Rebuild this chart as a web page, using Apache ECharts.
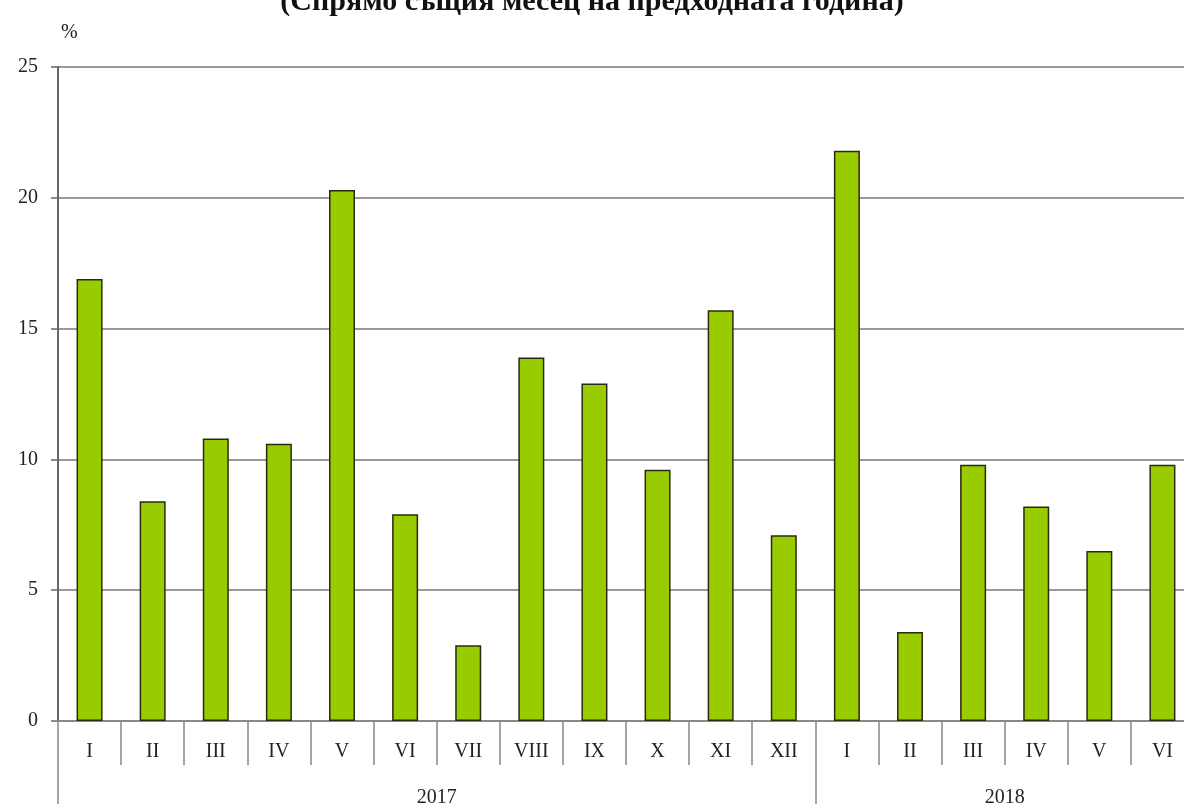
<!DOCTYPE html>
<html>
<head>
<meta charset="utf-8">
<script src="https://cdn.jsdelivr.net/npm/echarts@6/dist/echarts.min.js"></script>
<style>
html,body{margin:0;padding:0;background:#fff;}
#c{width:1184px;height:804px;}
</style>
</head>
<body>
<div id="c"></div>
<script>
const months = ['I','II','III','IV','V','VI','VII','VIII','IX','X','XI','XII','I','II','III','IV','V','VI'];
const values = [16.9, 8.4, 10.8, 10.6, 20.3, 7.9, 2.9, 13.9, 12.9, 9.6, 15.7, 7.1, 21.8, 3.4, 9.8, 8.2, 6.5, 9.8];
const years = ['2017', '2018'];
const yearStarts = [0, 12, 18];
const yearCenters = [6, 15];
const yTicks = [0, 5, 10, 15, 20, 25];
const titleText = '(Спрямо същия месец на предходната година)';
const unitLabel = '%';

const font = 'Liberation Serif, Times New Roman, serif';
const chart = echarts.init(document.getElementById('c'));
chart.setOption({
  animation: false,
  backgroundColor: '#ffffff',
  title: [
    { text: titleText, left: 'center', top: -18,
      textStyle: { fontFamily: font, fontSize: 30, fontWeight: 'bold', color: '#111' } },
    { text: unitLabel, left: 56, top: 18,
      textStyle: { fontFamily: font, fontSize: 20, fontWeight: 'normal', color: '#222' } }
  ],
  grid: { left: 58, width: 1136, top: 67, height: 654, containLabel: false, outerBoundsMode: 'none' },
  xAxis: [
    {
      type: 'category',
      data: months,
      boundaryGap: true,
      axisLine: { show: true, lineStyle: { color: '#888', width: 2 } },
      axisTick: { show: true, alignWithLabel: false, length: 44, lineStyle: { color: '#888', width: 1.5 } },
      axisLabel: { interval: 0, margin: 21, fontFamily: font, fontSize: 20, color: '#222' },
      splitLine: { show: false }
    },
    {
      type: 'value',
      position: 'bottom',
      min: 0, max: 18, interval: 1,
      axisLine: { show: false },
      axisTick: { show: true, customValues: yearStarts, length: 84, lineStyle: { color: '#888', width: 1.5 } },
      axisLabel: {
        show: true, customValues: yearCenters, margin: 67,
        fontFamily: font, fontSize: 20, color: '#222',
        formatter: function (v) { return years[yearCenters.indexOf(v)] || ''; }
      },
      splitLine: { show: false }
    }
  ],
  yAxis: {
    type: 'value',
    min: yTicks[0], max: yTicks[yTicks.length - 1], interval: 5,
    axisLine: { show: true, lineStyle: { color: '#666', width: 2 } },
    axisTick: { show: true, inside: false, length: 7, lineStyle: { color: '#666', width: 1.5 } },
    axisLabel: { margin: 20, fontFamily: font, fontSize: 20, color: '#222' },
    splitLine: { show: true, lineStyle: { color: '#999', width: 2 } }
  },
  series: [{
    type: 'bar',
    xAxisIndex: 0,
    data: values,
    barWidth: 26,
    itemStyle: { color: '#99cc00', borderColor: '#2a2a10', borderWidth: 1.5 }
  }]
});
</script>
</body>
</html>
